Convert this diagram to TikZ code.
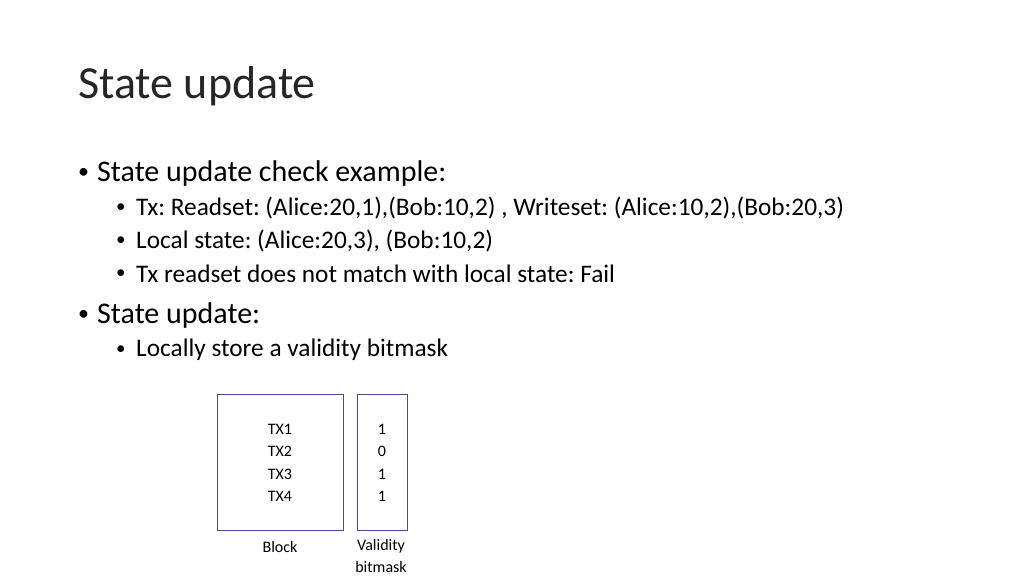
\documentclass[tikz,border=0pt]{standalone}
\usepackage{fontspec}
\setmainfont{Carlito}
\begin{document}
\frenchspacing
\begin{tikzpicture}[x=1pt,y=-1pt,
  lone/.style={anchor=west,inner sep=0pt,font=\fontsize{30}{36}\selectfont},
  ltwo/.style={anchor=west,inner sep=0pt,font=\fontsize{25.3}{30}\selectfont},
  bx/.style={draw=black!60!blue!70!white,line width=1pt},
  sm/.style={font=\fontsize{16}{22.5}\selectfont,align=center,inner sep=0pt}]
\useasboundingbox (0,0) rectangle (1024,576);
\node[anchor=west,inner sep=0pt,font=\fontsize{46}{54}\selectfont,text=black!85] (title) at (78,86) {State update};
\node[lone,font=\fontsize{22}{26}\selectfont] (b1d) at (78,173) {•};
\node[lone] (b1) at (97,173) {State update check example:};
\node[ltwo,font=\fontsize{19}{22}\selectfont] (d1) at (116,208) {•};
\node[ltwo] (s1) at (136,208) {Tx: Readset: (Alice:20,1),(Bob:10,2) , Writeset: (Alice:10,2),(Bob:20,3)};
\node[ltwo,font=\fontsize{19}{22}\selectfont] (d2) at (116,241) {•};
\node[ltwo] (s2) at (136,241) {Local state: (Alice:20,3), (Bob:10,2)};
\node[ltwo,font=\fontsize{19}{22}\selectfont] (d3) at (116,274) {•};
\node[ltwo] (s3) at (136,274) {Tx readset does not match with local state: Fail};
\node[lone,font=\fontsize{22}{26}\selectfont] (b2d) at (78,315) {•};
\node[lone] (b2) at (97,315) {State update:};
\node[ltwo,font=\fontsize{19}{22}\selectfont] (d4) at (116,350) {•};
\node[ltwo] (s4) at (136,350) {Locally store a validity bitmask};
\draw[bx] (217,394) rectangle (343,530);
\draw[bx] (357,394) rectangle (407,530);
\node[sm] (txs) at (280,463) {TX1\\TX2\\TX3\\TX4};
\node[sm] (bits) at (382,463) {1\\0\\1\\1};
\node[sm] (blk) at (280,547) {Block};
\node[sm] (vb) at (381,556) {Validity\\bitmask};
\end{tikzpicture}
\end{document}
